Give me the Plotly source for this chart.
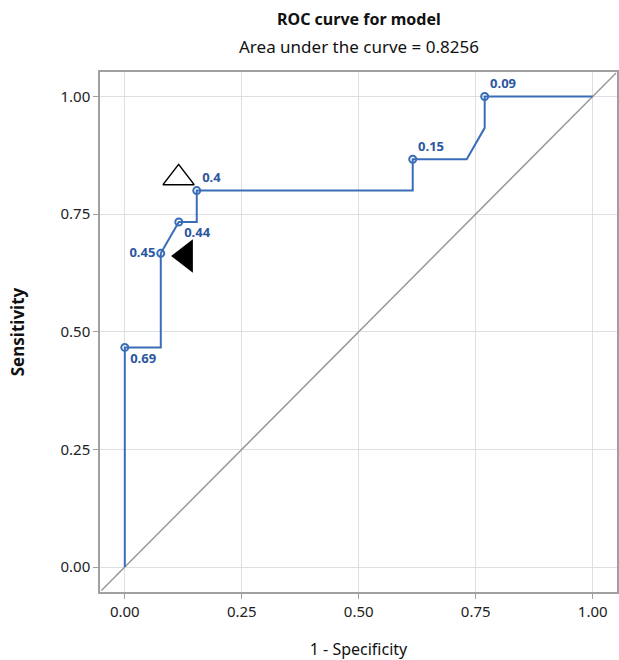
import plotly.graph_objects as go

# ROC curve path (1 - specificity, sensitivity)
fpr = [0.0, 0.0, 0.0769, 0.0769, 0.1154, 0.1538, 0.1538, 0.6154, 0.6154, 0.7308, 0.7692, 0.7692, 1.0]
tpr = [0.0, 0.4667, 0.4667, 0.6667, 0.7333, 0.7333, 0.8, 0.8, 0.8667, 0.8667, 0.9333, 1.0, 1.0]

# labelled cut-off points
pt_x = [0.0, 0.0769, 0.1154, 0.1538, 0.6154, 0.7692]
pt_y = [0.4667, 0.6667, 0.7333, 0.8, 0.8667, 1.0]
pt_labels = ["0.69", "0.45", "0.44", "0.4", "0.15", "0.09"]
pt_pos = ["bottom right", "middle left", "bottom right", "top right", "top right", "top right"]

# triangle markers
tri_open = (0.115, 0.827)
tri_fill = (0.13, 0.661)

blue = "#3a6db8"
lblue = "#2c56a0"
font = "Noto Sans"

fig = go.Figure()
fig.add_trace(go.Scatter(x=[-0.05, 1.05], y=[-0.05, 1.05], mode="lines",
                         line=dict(color="#9a9a9a", width=1.5), hoverinfo="skip"))
fig.add_trace(go.Scatter(x=fpr, y=tpr, mode="lines", line=dict(color=blue, width=2)))
fig.add_trace(go.Scatter(x=pt_x, y=pt_y, mode="markers+text", text=pt_labels,
                         textposition=pt_pos,
                         textfont=dict(color=lblue, size=13, family=font, weight="bold"),
                         marker=dict(symbol="circle-open", size=7, color=blue, line=dict(width=2))))
fig.add_trace(go.Scatter(x=[tri_open[0]], y=[tri_open[1]], mode="markers",
                         marker=dict(symbol="triangle-up-open", size=27, color="black", line=dict(width=1.5))))
fig.add_trace(go.Scatter(x=[tri_fill[0]], y=[tri_fill[1]], mode="markers",
                         marker=dict(symbol="triangle-left", size=29, color="black")))

ticks = [0, 0.25, 0.5, 0.75, 1.0]
ticktext = ["0.00", "0.25", "0.50", "0.75", "1.00"]
axis_common = dict(range=[-0.053, 1.052], tickvals=ticks, ticktext=ticktext,
                   showgrid=True, gridcolor="#dde0e3", gridwidth=1.3, automargin=False,
                   zeroline=False, showline=True, linecolor="#a0a0a0", linewidth=1.5, mirror=True,
                   ticks="outside", ticklen=5, tickcolor="#a0a0a0",
                   tickfont=dict(size=15, color="#222", family=font))

fig.update_layout(
    width=619, height=660,
    margin=dict(l=100, r=2, t=72, b=68),
    paper_bgcolor="white", plot_bgcolor="white",
    showlegend=False,
    xaxis=dict(**axis_common, title=dict(text="1 - Specificity", font=dict(size=16, color="#111", family=font), standoff=25)),
    yaxis=dict(**axis_common, title=dict(text="<b>Sensitivity</b>", font=dict(size=17, color="#111", family=font), standoff=32)),
    annotations=[
        dict(text="<b>ROC curve for model</b>", x=0.5, y=1, xref="paper", yref="paper",
             xanchor="center", yanchor="bottom", yshift=40, showarrow=False,
             font=dict(size=16, color="#111", family=font)),
        dict(text="Area under the curve = 0.8256", x=0.5, y=1, xref="paper", yref="paper",
             xanchor="center", yanchor="bottom", yshift=12, showarrow=False,
             font=dict(size=17, color="#111", family=font)),
    ],
)
fig.write_html("out.html", config={"displayModeBar": False},
               post_script="document.body.style.margin='0';document.body.style.overflow='hidden';")
